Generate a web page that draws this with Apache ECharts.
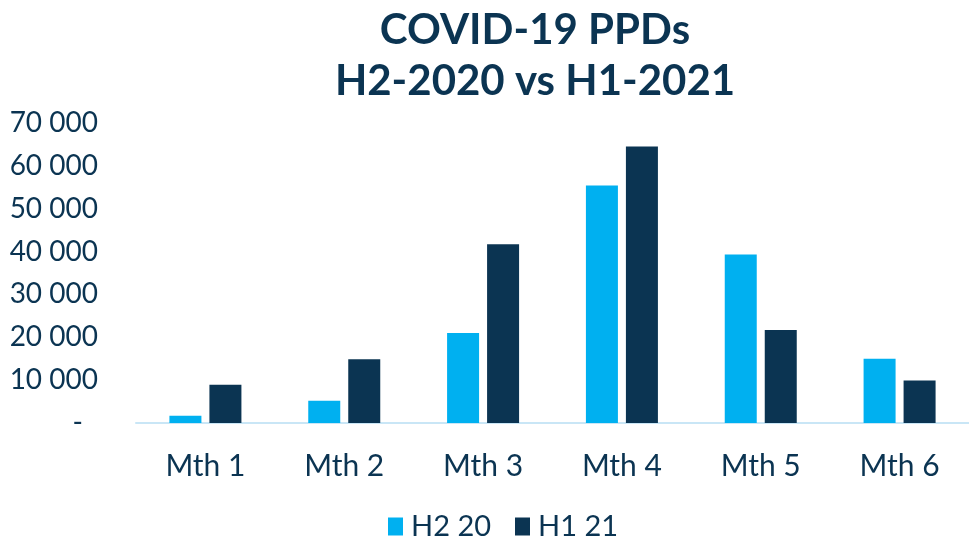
<!DOCTYPE html>
<html>
<head>
<meta charset="utf-8">
<script src="https://cdn.jsdelivr.net/npm/echarts@6/dist/echarts.min.js"></script>
<style>
  html, body { margin: 0; padding: 0; background: #fff; }
  #main { width: 969px; height: 540px; }
</style>
</head>
<body>
<div id="main"></div>
<script>
// categories and values
var months = ['Mth 1', 'Mth 2', 'Mth 3', 'Mth 4', 'Mth 5', 'Mth 6'];
var h2_20 = [1700, 5200, 21000, 55400, 39300, 15000];
var h1_21 = [8900, 14900, 41700, 64500, 21700, 9900];
var seriesNames = ['H2 20', 'H1 21'];

var navy = '#0b3452';
var fontFam = 'Lato, "Open Sans", sans-serif';

var chart = echarts.init(document.getElementById('main'));

chart.setOption({
  animation: false,
  title: {
    text: 'COVID-19 PPDs\nH2-2020 vs H1-2021',
    left: 530,
    textAlign: 'center',
    top: 0,
    textStyle: {
      fontFamily: fontFam,
      fontWeight: 'bold',
      fontSize: 42,
      lineHeight: 51,
      color: navy
    }
  },
  legend: {
    top: 507,
    left: 383,
    itemWidth: 15,
    itemHeight: 18,
    itemGap: 24,
    icon: 'rect',
    textStyle: { fontFamily: fontFam, fontSize: 29, color: navy, padding: [0, 0, 0, 3] },
    data: seriesNames
  },
  grid: {
    left: 136,
    right: 0,
    top: 123,
    bottom: 117
  },
  xAxis: {
    type: 'category',
    data: months,
    axisTick: { show: false },
    axisLine: { lineStyle: { color: '#c9e6f6', width: 2 } },
    axisLabel: {
      margin: 28,
      fontFamily: fontFam,
      fontSize: 30,
      color: navy
    }
  },
  yAxis: {
    type: 'value',
    min: 0,
    max: 70000,
    interval: 10000,
    splitLine: { show: false },
    axisLine: { show: false },
    axisTick: { show: false },
    axisLabel: {
      margin: 38,
      fontFamily: fontFam,
      fontSize: 28,
      color: navy,
      formatter: function (v) {
        if (v === 0) return '{d|-}';
        return String(v).replace(/\B(?=(\d{3})+(?!\d))/g, ' ');
      },
      rich: {
        d: { fontFamily: fontFam, fontSize: 28, color: navy, padding: [0, 15, 0, 0] }
      }
    }
  },
  series: [
    {
      name: seriesNames[0],
      type: 'bar',
      data: h2_20,
      barWidth: 32,
      barGap: '25%',
      itemStyle: { color: '#00b0f0' }
    },
    {
      name: seriesNames[1],
      type: 'bar',
      data: h1_21,
      barWidth: 32,
      itemStyle: { color: navy }
    }
  ]
});
</script>
</body>
</html>
